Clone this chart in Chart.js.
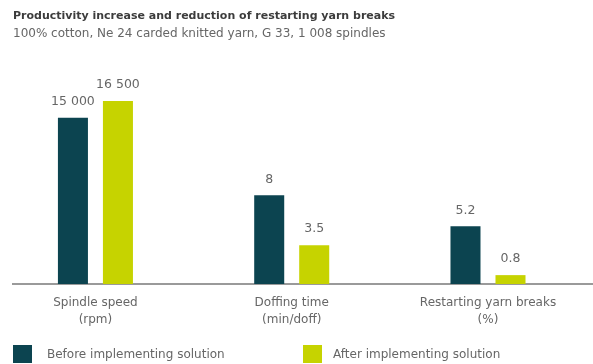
<!DOCTYPE html>
<html>
<head>
<meta charset="utf-8">
<script src="https://cdn.jsdelivr.net/npm/chart.js@4/dist/chart.umd.min.js"></script>
<style>
  body { margin: 0; background: #fff; }
  #wrap { position: relative; width: 593px; height: 364px; }
  #legend { position: absolute; left: 0; top: 0; width: 593px; height: 364px; pointer-events: none;
            font-family: "DejaVu Sans", sans-serif; font-size: 12px; color: #666; }
  .box { position: absolute; width: 19px; height: 18px; top: 345px; }
  .lbl { position: absolute; top: 346px; line-height: 16px; white-space: nowrap; }
</style>
</head>
<body>
<div id="wrap">
  <canvas id="chart" width="593" height="364"></canvas>
  <div id="legend"></div>
</div>
<script>
const categories = [['Spindle speed', '(rpm)'], ['Doffing time', '(min/doff)'], ['Restarting yarn breaks', '(%)']];
const seriesNames = ['Before implementing solution', 'After implementing solution'];
const beforeValues = [15000, 8, 5.2];
const afterValues = [16500, 3.5, 0.8];
// spindle speed is drawn in thousands of rpm so the three groups share one scale
const plotDivisor = [1000, 1, 1];
const colors = ['#0c4450', '#c6d300'];
const FONT = '"DejaVu Sans", sans-serif';

function fmt(v) {
    return String(v).replace(/\B(?=(\d{3})+(?!\d))/g, ' ');
}

function toPoints(values) {
    return values.map((v, i) => ({ x: i, y: v / plotDivisor[i], raw: v }));
}

const valueLabels = {
    id: 'valueLabels',
    afterDatasetsDraw(chart) {
        const ctx = chart.ctx;
        ctx.save();
        ctx.font = '12.5px ' + FONT;
        ctx.fillStyle = '#666';
        ctx.textAlign = 'center';
        ctx.textBaseline = 'middle';
        chart.data.datasets.forEach((ds, di) => {
            chart.getDatasetMeta(di).data.forEach((bar, i) => {
                ctx.fillText(fmt(ds.data[i].raw), bar.x, bar.y - 16);
            });
        });
        ctx.restore();
    }
};

new Chart(document.getElementById('chart'), {
    type: 'bar',
    data: {
        datasets: [
            { label: seriesNames[0], data: toPoints(beforeValues), backgroundColor: colors[0] },
            { label: seriesNames[1], data: toPoints(afterValues), backgroundColor: colors[1] }
        ]
    },
    options: {
        responsive: false,
        animation: false,
        categoryPercentage: 0.4586,
        barPercentage: 0.667,
        layout: { padding: { left: 13, right: 0, top: 0, bottom: 20 } },
        plugins: {
            legend: { display: false },
            tooltip: { enabled: false },
            title: {
                display: true,
                text: 'Productivity increase and reduction of restarting yarn breaks',
                align: 'start',
                color: '#3c3c3c',
                font: { family: FONT, size: 11, weight: 'bold', lineHeight: 1.2 },
                padding: { top: 10, bottom: 3 }
            },
            subtitle: {
                display: true,
                text: '100% cotton, Ne 24 carded knitted yarn, G 33, 1 008 spindles',
                align: 'start',
                color: '#666',
                font: { family: FONT, size: 12, lineHeight: 1.2 },
                padding: { top: 0, bottom: 19.4 }
            }
        },
        scales: {
            x: {
                type: 'linear',
                offset: false,
                min: -0.42,
                max: 2.535,
                grid: { display: false, drawTicks: false, offset: false },
                border: { display: true, color: '#9a9a9a', width: 2 },
                afterFit: axis => { axis.height = 60; },
                ticks: {
                    stepSize: 1,
                    includeBounds: false,
                    autoSkip: false,
                    maxRotation: 0,
                    padding: 10,
                    color: '#666',
                    font: { family: FONT, size: 12, lineHeight: 1.45 },
                    callback: v => Number.isInteger(v) ? categories[v] : ''
                }
            },
            y: {
                display: false,
                min: 0,
                max: 20.2
            }
        }
    },
    plugins: [valueLabels]
});

const legend = document.getElementById('legend');
const legendX = [[13, 47], [303, 333]];
seriesNames.forEach((name, i) => {
    const box = document.createElement('div');
    box.className = 'box';
    box.style.left = legendX[i][0] + 'px';
    box.style.background = colors[i];
    legend.appendChild(box);
    const lbl = document.createElement('div');
    lbl.className = 'lbl';
    lbl.style.left = legendX[i][1] + 'px';
    lbl.textContent = name;
    legend.appendChild(lbl);
});
</script>
</body>
</html>
